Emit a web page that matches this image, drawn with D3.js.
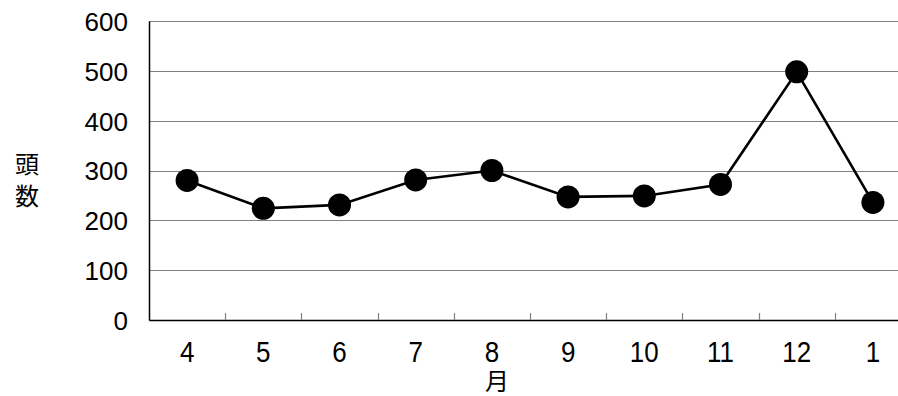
<!DOCTYPE html>
<html>
<head>
<meta charset="utf-8">
<script src="https://cdn.jsdelivr.net/npm/d3@7"></script>
<style>
  html, body { margin: 0; padding: 0; background: #fff; overflow: hidden; }
  svg { display: block; }
  text { font-family: "Liberation Sans", Arial, sans-serif; fill: #000; }
  .cjk { font-family: "Noto Sans CJK JP", "Noto Sans", sans-serif; }
</style>
</head>
<body>
<svg id="chart" width="898" height="396"></svg>
<script>
const months = ["4", "5", "6", "7", "8", "9", "10", "11", "12", "1"];
const heads = [280, 224, 231, 281, 300, 247, 249, 272, 498, 236];
const yTicks = [0, 100, 200, 300, 400, 500, 600];
const titleText = "【月別搬入頭数の推移】";
const yTitle = ["頭", "数"];
const xTitle = "月";

const plotL = 149, plotR = 911, plotT = 21, plotB = 320;

const svg = d3.select("#chart");

const x = d3.scaleBand().domain(months).range([plotL, plotR]).padding(0);
const y = d3.scaleLinear().domain([0, 600]).range([plotB, plotT]);

// title (mostly cut off at top, as in the reference)
svg.append("text").attr("class", "cjk")
  .attr("x", 474).attr("y", -3)
  .attr("text-anchor", "middle")
  .style("font-size", "28px")
  .text(titleText);

// gridlines
svg.append("g").selectAll("line")
  .data(yTicks.filter(d => d > 0))
  .join("line")
  .attr("x1", plotL).attr("x2", plotR)
  .attr("y1", d => Math.round(y(d)) + 0.5).attr("y2", d => Math.round(y(d)) + 0.5)
  .attr("stroke", "#808080").attr("stroke-width", 1.2);

// y axis
const yAxis = d3.axisLeft(y).tickValues(yTicks).tickSize(0).tickPadding(21);
const gy = svg.append("g").attr("transform", `translate(${plotL},0)`).call(yAxis);
gy.select(".domain").attr("stroke", "#000").attr("stroke-width", 1.5);
gy.selectAll("text").style("font-size", "26px").style("font-family", "'Liberation Sans', Arial, sans-serif").attr("dy", "0.36em");

// x axis
const sy = 1.15;
const xAxis = d3.axisBottom(x).tickSize(0);
const gx = svg.append("g").attr("transform", `translate(0,${plotB})`).call(xAxis);
gx.select(".domain").attr("stroke", "#000").attr("stroke-width", 1.5);
gx.selectAll("text").style("font-size", "26px").style("font-family", "'Liberation Sans', Arial, sans-serif")
  .attr("transform", `scale(1,${sy})`)
  .attr("y", 42 / sy).attr("dy", 0);

// x separator ticks (between categories, pointing up)
svg.append("g").selectAll("line")
  .data(months.slice(1))
  .join("line")
  .attr("x1", d => Math.round(x(d)) + 0.5).attr("x2", d => Math.round(x(d)) + 0.5)
  .attr("y1", plotB).attr("y2", plotB - 7)
  .attr("stroke", "#808080").attr("stroke-width", 1.2);

// line
const line = d3.line()
  .x((d, i) => x(months[i]) + x.bandwidth() / 2)
  .y(d => y(d));
svg.append("path").datum(heads)
  .attr("d", line)
  .attr("fill", "none").attr("stroke", "#000").attr("stroke-width", 2.6);

// markers
svg.append("g").selectAll("circle")
  .data(heads)
  .join("circle")
  .attr("cx", (d, i) => x(months[i]) + x.bandwidth() / 2)
  .attr("cy", d => y(d))
  .attr("r", 11.5)
  .attr("fill", "#000");

// y title (vertical stacked)
svg.append("g").selectAll("text")
  .data(yTitle)
  .join("text").attr("class", "cjk")
  .attr("x", 27).attr("y", (d, i) => 173 + i * 32)
  .attr("text-anchor", "middle")
  .style("font-size", "24px")
  .text(d => d);

// x title
svg.append("text").attr("class", "cjk")
  .attr("x", 497).attr("y", 390)
  .attr("text-anchor", "middle")
  .style("font-size", "24px")
  .text(xTitle);
</script>
</body>
</html>
